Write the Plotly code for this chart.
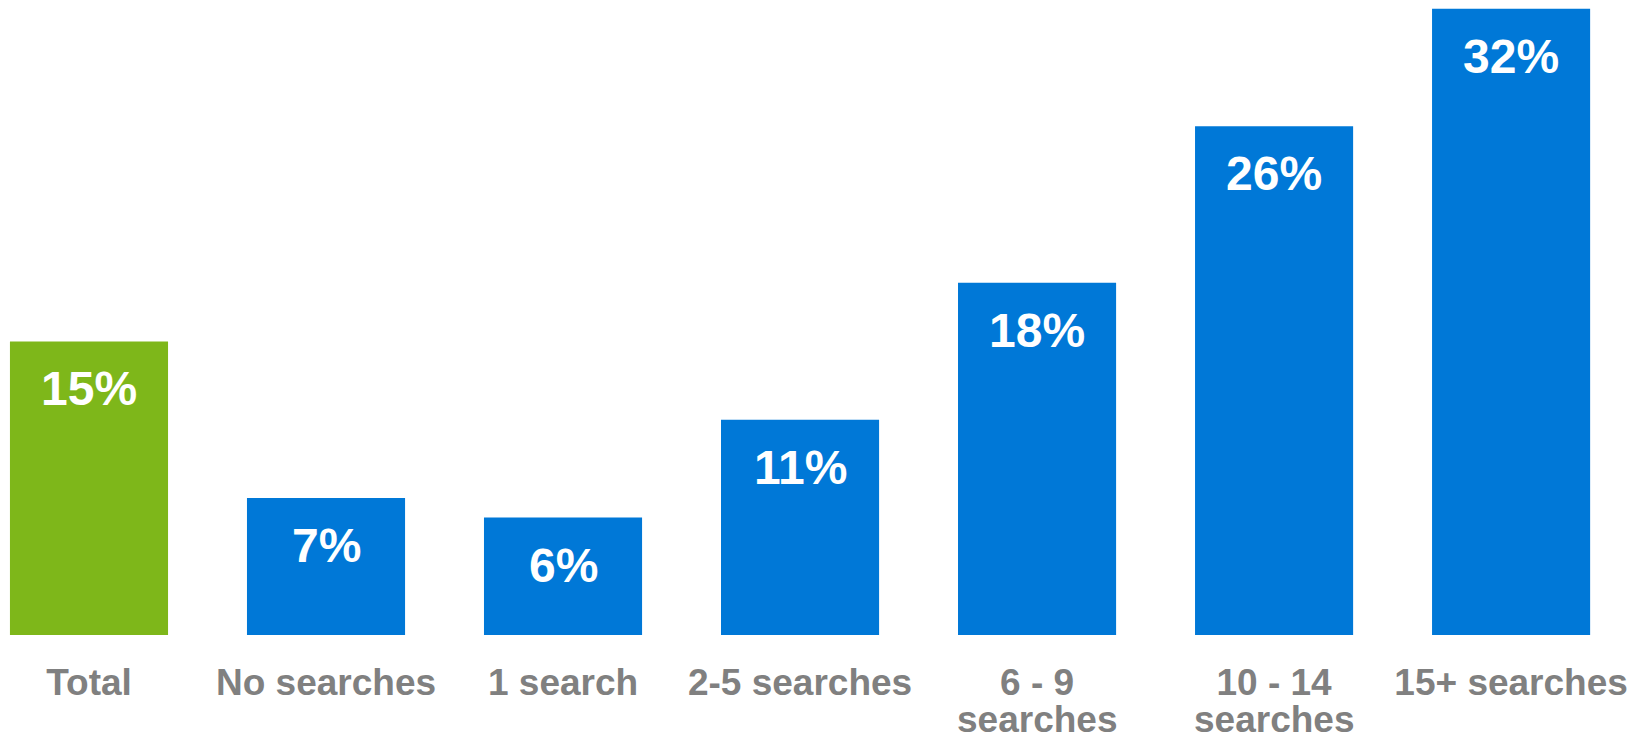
import plotly.graph_objects as go

categories = ["Total", "No searches", "1 search", "2-5 searches",
              "6 - 9<br>searches", "10 - 14<br>searches", "15+ searches"]
values = [15, 7, 6, 11, 18, 26, 32]
labels = ["15%", "7%", "6%", "11%", "18%", "26%", "32%"]
colors = ["#7EB71A", "#0078D7", "#0078D7", "#0078D7", "#0078D7", "#0078D7", "#0078D7"]

xs = list(range(len(categories)))
first_lines = [c.split("<br>")[0] for c in categories]
second_lines = [c.split("<br>")[1] if "<br>" in c else "" for c in categories]

label_font = dict(family="Liberation Sans, Arial", size=37, color="#808080", weight="bold")

fig = go.Figure()
fig.add_trace(go.Bar(
    x=xs, y=values, width=0.667,
    marker=dict(color=colors, line=dict(width=0)),
    hoverinfo="skip",
))

for x, v, t in zip(xs, values, labels):
    fig.add_annotation(
        x=x, y=v, text=t, showarrow=False, yanchor="top", xanchor="center",
        yshift=-19,
        font=dict(family="Liberation Sans, Arial", size=48, color="white", weight="bold"),
    )

# second lines of the two-line category labels (tighter line spacing than Plotly's default)
for x, t in zip(xs, second_lines):
    if t:
        fig.add_annotation(
            x=x, xref="x", y=0, yref="paper", text=t, showarrow=False,
            yanchor="middle", xanchor="center", yshift=-84,
            font=label_font,
        )

fig.update_layout(
    width=1645, height=741,
    margin=dict(l=0, r=0, t=0, b=106, autoexpand=False),
    paper_bgcolor="white", plot_bgcolor="white",
    showlegend=False,
    xaxis=dict(
        range=[-0.3755, 6.565], automargin=False,
        tickmode="array", tickvals=xs, ticktext=first_lines,
        showgrid=False, zeroline=False, showline=False, ticks="",
        tickfont=label_font,
        ticklabelstandoff=22,
    ),
    yaxis=dict(range=[0, 32.45], visible=False, showgrid=False, zeroline=False, automargin=False),
)

fig.write_html("out.html")
